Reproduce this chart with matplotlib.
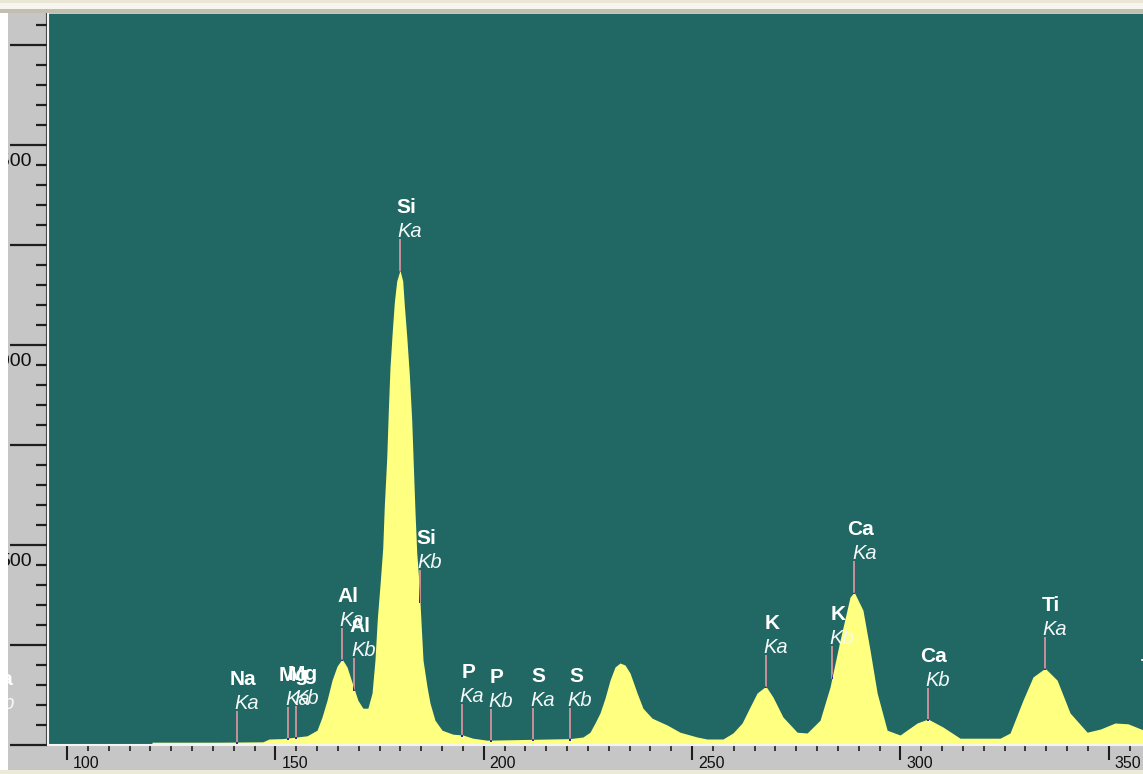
import numpy as np
import matplotlib.pyplot as plt
from matplotlib.patches import Rectangle
from matplotlib.lines import Line2D
from matplotlib.transforms import offset_copy

W, H = 1143, 774

# spectrum outline (channel, counts)
spec_channel = [120.2, 120.4, 136.7, 147.0, 148.5, 151.8, 157.6, 160.0, 161.2, 162.4,
                163.6, 164.8, 166.0, 167.2, 168.6, 169.8, 171.0, 172.2, 173.2, 173.9,
                174.47, 175.11, 175.76, 176.15, 176.72, 177.11, 177.51, 178.07, 178.55, 179.12,
                179.9, 180.56, 180.94, 181.52, 182.14, 182.72, 183.1, 183.51, 183.92, 184.54,
                184.95, 185.43, 186.4, 187.1, 188.3, 190.0, 192.6, 195.0, 197.4, 200.8,
                220.7, 223.8, 225.5, 226.7, 227.9, 229.1, 230.3, 231.5, 232.7, 233.9,
                235.1, 236.8, 238.2, 240.4, 244.0, 247.1, 251.2, 253.6, 257.4, 259.8,
                262.0, 263.9, 265.6, 267.7, 269.4, 271.8, 275.2, 277.6, 280.7, 283.1,
                285.5, 287.9, 288.9, 291.0, 292.7, 294.4, 296.8, 299.9, 304.0, 306.6,
                310.2, 314.3, 323.9, 326.3, 329.4, 331.8, 334.7, 337.6, 340.7, 344.8,
                348.0, 351.5, 354.6, 358.2]
spec_counts = [0, 57, 57, 58, 65, 66, 73, 87, 120, 162,
               212, 247, 265, 245, 200, 162, 142, 142, 180, 262,
               367, 450, 542, 650, 767, 887, 995, 1087, 1157, 1210,
               1237, 1210, 1150, 1072, 977, 862, 750, 632, 532, 442,
               357, 262, 195, 155, 112, 87, 77, 75, 67, 62,
               66, 70, 82, 105, 130, 167, 212, 245, 255, 250,
               230, 180, 142, 117, 100, 82, 70, 65, 65, 80,
               105, 145, 180, 197, 170, 120, 82, 80, 112, 195,
               312, 420, 432, 387, 287, 180, 87, 75, 105, 115,
               95, 67, 67, 80, 162, 220, 242, 212, 130, 82,
               90, 105, 103, 88]

# element markers
peak_channel = [82.3, 140.8, 153.0, 155.0, 166.0, 168.9, 179.9, 184.7, 194.8, 201.7,
                211.8, 220.7, 267.7, 283.6, 288.9, 306.6, 334.7, 358.5]
peak_element = ['Ca', 'Na', 'Mg', 'Mg', 'Al', 'Al', 'Si', 'Si', 'P', 'P',
                'S', 'S', 'K', 'K', 'Ca', 'Ca', 'Ti', 'Ti']
peak_line = ['Lb', 'Ka', 'Ka', 'Kb', 'Ka', 'Kb', 'Ka', 'Kb', 'Ka', 'Kb',
             'Ka', 'Kb', 'Ka', 'Kb', 'Ka', 'Kb', 'Ka', 'Kb']

x_major = [100, 150, 200, 250, 300, 350]
y_labels = [500, 1000, 1500]

TEAL = '#216864'
YELLOW = '#ffff80'
PINK = '#c8909a'
DARKBLUE = '#1c2c8c'
PANEL = '#c6c6c6'
PX = 0.72  # points per pixel at 100 dpi
CPP = 2.5  # counts per pixel on the y axis

plt.rcParams['font.family'] = ['Liberation Sans', 'DejaVu Sans']

fig = plt.figure(figsize=(W / 100, H / 100), dpi=100, facecolor=PANEL)


def pix_rect(x0, y0, x1, y1, color, z=-5):
    r = Rectangle((x0 / W, 1 - y1 / H), (x1 - x0) / W, (y1 - y0) / H,
                  transform=fig.transFigure, color=color, lw=0, zorder=z)
    fig.add_artist(r)


# window chrome around the plot
pix_rect(0, 0, 8, H, '#ffffff', z=5)
pix_rect(0, 0, W, 12, '#f6f5ee', z=5)
pix_rect(0, 0, W, 3, '#e9e6d6', z=5)
pix_rect(0, 9.5, W, 12.5, '#c2bfb0', z=5)
pix_rect(0, 770, W, H, '#ece9d8', z=5)
fig.add_artist(Line2D([45.5 / W] * 2, [1 - 745 / H, 1 - 12 / H], transform=fig.transFigure,
                      color='#404040', lw=0.8, zorder=-4))

ax = fig.add_axes([48 / W, 1 - 745 / H, (W - 48) / W, (745 - 14) / H])
ax.set_facecolor(TEAL)
ax.set_xlim(95.44, 358.2)
ax.set_ylim(50, 50 + 731 * CPP)

fill = ax.fill_between(spec_channel, 0, spec_counts, color=YELLOW, lw=0, zorder=1)
fill_path = fill.get_paths()[0]

for ch, el, ln in zip(peak_channel, peak_element, peak_line):
    y = np.interp(ch, spec_channel, spec_counts, left=57)
    seg = ([ch, ch], [y - 2 * CPP, y + 31 * CPP])
    ax.plot(*seg, color=PINK, lw=1.4, solid_capstyle='butt', zorder=3)
    blue, = ax.plot(*seg, color=DARKBLUE, lw=1.4, solid_capstyle='butt', zorder=3.5)
    blue.set_clip_path(fill_path, ax.transData)
    ax.annotate(el, xy=(ch, y), xytext=(6 * PX, 57 * PX), textcoords='offset points',
                ha='center', va='baseline', fontsize=15, fontweight='bold',
                color='white', annotation_clip=False, zorder=4)
    ax.annotate(ln, xy=(ch, y), xytext=(10 * PX, 33 * PX), textcoords='offset points',
                ha='center', va='baseline', fontsize=14.5, style='italic',
                color='#f4f8f8', annotation_clip=False, zorder=4)

for s in ['top', 'right']:
    ax.spines[s].set_visible(False)
for s in ['left', 'bottom']:
    ax.spines[s].set_color('#f4f4f4')
    ax.spines[s].set_linewidth(1.5)

ax.set_xticks(x_major)
ax.set_xticks(np.arange(100, 360, 5), minor=True)
ax.set_yticks(np.arange(50, 1850, 250))
ax.set_yticks(np.arange(50, 1877, 50), minor=True)
ax.tick_params(which='both', color='#1e1e1e', labelbottom=False, labelleft=False,
               direction='out')
ax.tick_params(axis='x', which='major', length=15 * PX, width=1.5)
ax.tick_params(axis='x', which='minor', length=6 * PX, width=1.2)
ax.tick_params(axis='y', which='major', length=38 * PX, width=1.6)
ax.tick_params(axis='y', which='minor', length=12 * PX, width=1.6)

xlab_tr = offset_copy(ax.get_xaxis_transform(), fig=fig, x=6, y=-11, units='dots')
for v in x_major:
    ax.text(v, 0, str(v), transform=xlab_tr, ha='left', va='top', fontsize=11.5,
            color='#101010', clip_on=False)

ylab_tr = offset_copy(ax.get_yaxis_transform(), fig=fig, x=-16, y=-1, units='dots')
for v in y_labels:
    ax.text(0, v, str(v), transform=ylab_tr, ha='right', va='baseline', fontsize=14,
            color='#101010', clip_on=False)

fig.savefig('out.png', dpi=100, facecolor=fig.get_facecolor())
